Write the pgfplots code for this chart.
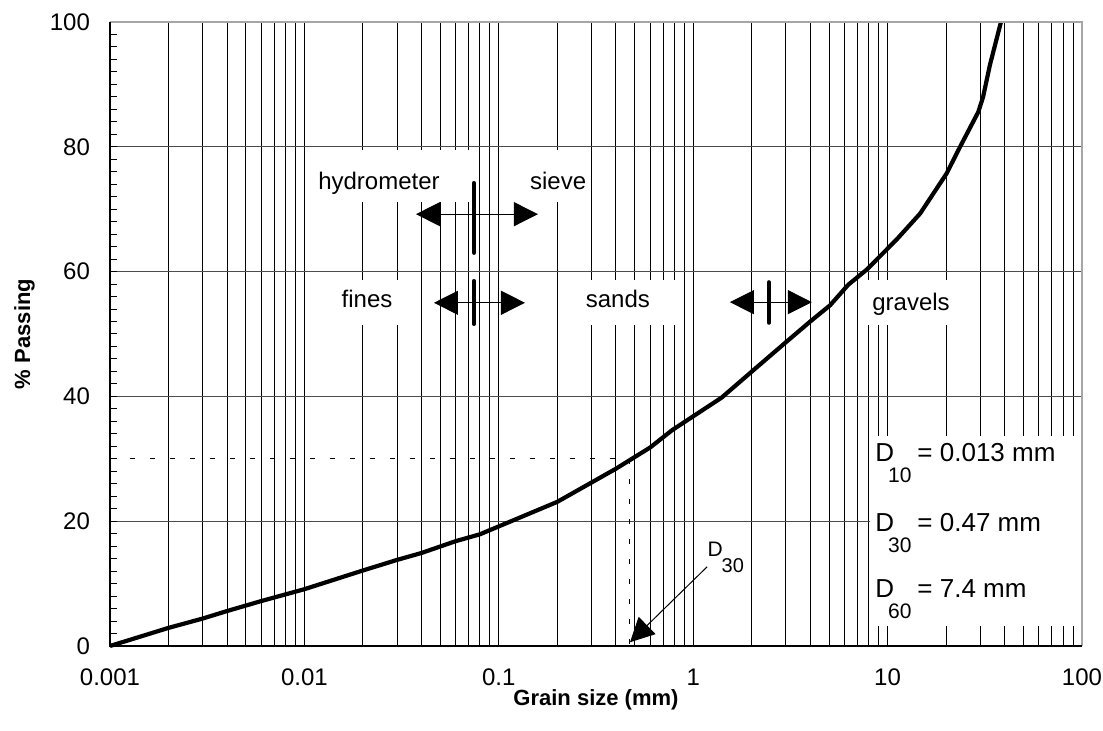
\documentclass[border=0pt]{standalone}
\usepackage{pgfplots}
\pgfplotsset{compat=1.18}
\usepackage{fontspec}
\setmainfont{Liberation Sans}
\usetikzlibrary{arrows.meta}

\tikzset{
  tri/.style={line width=0.5pt, {Triangle[length=12pt,width=12pt]}-{Triangle[length=12pt,width=12pt]}},
  bar/.style={line width=2pt, line cap=round},
  lab/.style={font=\fontsize{12}{14}\selectfont, anchor=base, inner sep=0pt},
  dlab/.style={font=\fontsize{13}{15}\selectfont, anchor=base west, inner sep=0pt},
}
\newcommand{\Dsub}[1]{D\kern-3pt\raisebox{-10.5pt}{\fontsize{10.5}{12}\selectfont #1}\kern3pt}

\begin{document}
\begin{tikzpicture}
\begin{axis}[name=ax, xmode=log, width=486pt, height=312pt, scale only axis,
  xmin=0.001, xmax=100, ymin=0, ymax=100,
  xtick={0.001,0.01,0.1,1,10,100}, xticklabels={0.001,0.01,0.1,1,10,100},
  minor xtick={0.002,0.003,0.004,0.005,0.006,0.007,0.008,0.009,
    0.02,0.03,0.04,0.05,0.06,0.07,0.08,0.09,
    0.2,0.3,0.4,0.5,0.6,0.7,0.8,0.9,
    2,3,4,5,6,7,8,9,20,30,40,50,60,70,80,90},
  ytick={0,20,...,100}, minor y tick num=9,
  xmajorgrids, xminorgrids, ymajorgrids,
  grid style={black, line width=0.5pt},
  y grid style={black!70},
  tick align=inside, xtick pos=left, ytick pos=left,
  major tick length=3.3pt, minor tick length=3.3pt,
  tick style={black, line width=0.5pt},
  axis line style={draw=none},
  ticklabel style={font=\fontsize{12}{14}\selectfont},
  /pgf/number format/assume math mode=true,
  yticklabel style={xshift=-6.5pt},
  xticklabel style={yshift=-8pt},
  xlabel={Grain size (mm)}, ylabel={\% Passing},
  label style={font=\fontsize{11}{13}\selectfont\bfseries},
  xlabel style={at={(axis description cs:0.5,-0.0865)}, anchor=center},
  ylabel style={at={(axis description cs:-0.088,0.5)}, anchor=center},
  clip=false]

% white boxes behind the labels
\fill[white] (axis cs:0.0102,71.2) rectangle (axis cs:0.078,79.5);
\fill[white] (axis cs:0.102,71.2) rectangle (axis cs:0.29,79.5);
\fill[white] (axis cs:0.0102,51.4) rectangle (axis cs:0.039,58.7);
\fill[white] (axis cs:0.205,51.4) rectangle (axis cs:0.85,58.7);
\fill[white] (axis cs:7.3,51.4) rectangle (axis cs:27,58.7);
\fill[white] (axis cs:8.1,3.2) rectangle (axis cs:99,33.7);

% D30 construction
\draw[black, line width=0.5pt, dash pattern=on 2.5pt off 7.5pt] (axis cs:0.001,30) -- (axis cs:0.47,30);
\draw[black, line width=0.5pt, dash pattern=on 2.5pt off 7.5pt] (axis cs:0.47,30) -- (axis cs:0.47,0);

\addplot[black, line width=2.1pt, line join=round] coordinates {
  (0.001,0) (0.002,2.9) (0.003,4.4) (0.004,5.6) (0.006,7.2) (0.01,9.1)
  (0.02,12.1) (0.03,13.8) (0.04,14.9) (0.06,16.8) (0.08,17.9) (0.2,23.1)
  (0.4,28.4) (0.6,31.8) (0.78,34.6) (1.4,39.8) (2.04,44.2) (3.03,48.8)
  (4.0,52.0) (5.06,54.6) (6.28,57.9) (7.8,60.3) (11.1,65.1) (14.7,69.3)
  (20.1,75.7) (23.6,80.0) (29.3,85.6) (31,88) (33.6,93.1) (38.3,100)};

% boundaries
\draw[tri] (axis cs:0.0375,69.2) -- (axis cs:0.159,69.2);
\draw[bar] (axis cs:0.0745,63.0) -- (axis cs:0.0745,74.2);
\draw[tri] (axis cs:0.0464,55.0) -- (axis cs:0.1364,55.0);
\draw[bar] (axis cs:0.0745,51.6) -- (axis cs:0.0745,58.5);
\draw[tri] (axis cs:1.545,55.1) -- (axis cs:4.08,55.1);
\draw[bar] (axis cs:2.45,51.8) -- (axis cs:2.45,58.3);

\node[lab] at (axis cs:0.0242,73.1) {hydrometer};
\node[lab] at (axis cs:0.202,73.1) {sieve};
\node[lab] at (axis cs:0.0210,54.3) {fines};
\node[lab] at (axis cs:0.41,54.3) {sands};
\node[lab] at (axis cs:13.2,53.7) {gravels};

\node[dlab] at (axis cs:8.61,29.5) {\Dsub{10}= 0.013 mm};
\node[dlab] at (axis cs:8.61,18.4) {\Dsub{30}= 0.47 mm};
\node[dlab] at (axis cs:8.61,7.7) {\Dsub{60}= 7.4 mm};

\draw[line width=0.5pt, -{Triangle[length=12pt,width=12pt]}] (axis cs:1.18,12.7) -- (axis cs:0.473,0.6);
\node[anchor=base west, inner sep=0pt, font=\fontsize{10.5}{12}\selectfont] at (axis cs:1.18,14.3)
  {D\kern-0.5pt\raisebox{-8pt}{\fontsize{10}{12}\selectfont 30}};

% frame
\draw[gray!70, line width=0.6pt] (rel axis cs:0,1) -- (rel axis cs:1,1) -- (rel axis cs:1,0);
\draw[black, line width=0.8pt] (rel axis cs:0,1) -- (rel axis cs:0,0) -- (rel axis cs:1,0);
\end{axis}
\pgfresetboundingbox
\path[use as bounding box] ([shift={(-55pt,-42.5pt)}]ax.south west) rectangle ([shift={(10.5pt,11pt)}]ax.north east);
\end{tikzpicture}
\end{document}
